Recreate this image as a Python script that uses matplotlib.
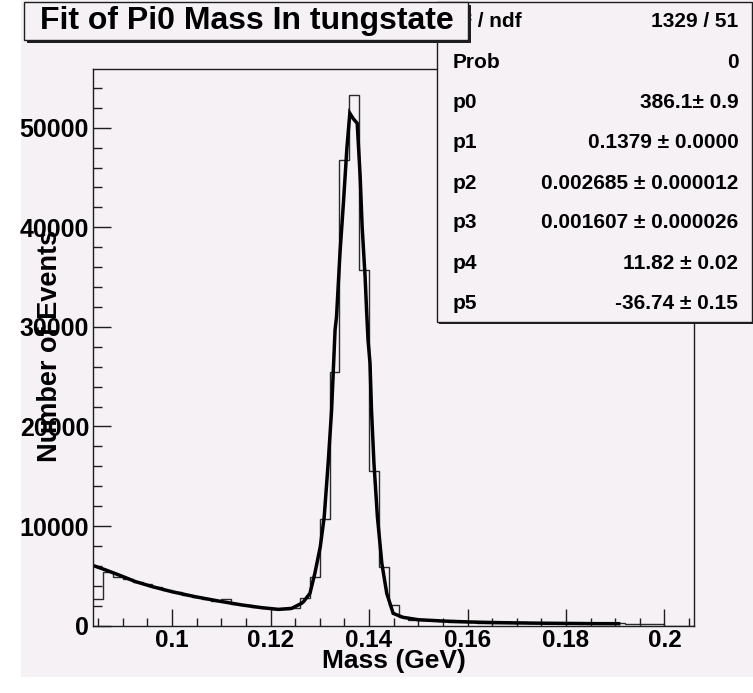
import matplotlib
matplotlib.use("Agg")
import matplotlib.pyplot as plt
from matplotlib.patches import Rectangle
from matplotlib.ticker import MultipleLocator, FixedLocator
import numpy as np

# histogram: 61 bins of 0.002 GeV from 0.084 to 0.206
bin_lo = 0.084
bin_width = 0.002
counts = [
    2650, 5420, 4860, 4700, 4400, 4150, 3850, 3600, 3350, 3100,
    2900, 2700, 2500, 2650, 2200, 2050, 1900, 1800, 1650, 1650,
    1800, 2750, 4920, 10680, 25500, 46750, 53280, 35710, 15560, 5860,
    2080, 900, 600, 560, 540, 520, 420, 400, 380, 280,
    270, 260, 250, 330, 320, 310, 300, 290, 280, 280,
    270, 260, 250, 240, 200, 190, 180, 170, 0, 0, 0,
]

# fitted curve
fit_x = [
    0.0841, 0.0865, 0.0892, 0.0926, 0.0960, 0.1000, 0.1047, 0.1094, 0.1142,
    0.1182, 0.1216, 0.1243, 0.1263, 0.1267, 0.1280, 0.1290, 0.1301, 0.1309,
    0.1317, 0.1324, 0.1331, 0.1334, 0.1341, 0.1348, 0.1355, 0.1361, 0.1368,
    0.1376, 0.1382, 0.1386, 0.1392, 0.1395, 0.1398, 0.1402, 0.1405, 0.1410,
    0.1417, 0.1426, 0.1436, 0.1449, 0.1469, 0.150, 0.155, 0.160, 0.165,
    0.170, 0.175, 0.180, 0.185, 0.1907,
]
fit_y = [
    6020, 5600, 5090, 4420, 3920, 3410, 2910, 2480, 2080,
    1810, 1640, 1740, 2250, 2410, 3250, 5260, 7930, 10940,
    16330, 21660, 29690, 31020, 37420, 42440, 47930, 51450, 50900,
    50440, 45080, 40060, 35040, 31700, 28680, 26340, 21660, 16300,
    10940, 6260, 3250, 1240, 840, 600, 470, 380, 320,
    280, 250, 230, 210, 200,
]

xticks = [0.1, 0.12, 0.14, 0.16, 0.18, 0.2]
xtick_labels = ["0.1", "0.12", "0.14", "0.16", "0.18", "0.2"]
yticks = [0, 10000, 20000, 30000, 40000, 50000]

title = "Fit of Pi0 Mass In tungstate"
stat_names = ["\u03c7\u00b2 / ndf", "Prob", "p0", "p1", "p2", "p3", "p4", "p5"]
stat_values = [
    "1329 / 51", "0", "386.1\u00b1 0.9", "0.1379 \u00b1 0.0000",
    "0.002685 \u00b1 0.000012", "0.001607 \u00b1 0.000026",
    "11.82 \u00b1 0.02", "-36.74 \u00b1 0.15",
]

W, H = 753, 693
BG = "#f5f1f5"
INK = "#1e1e1e"
FONT = "Liberation Sans"


def fx(px):
    return px / W


def fy(py):
    return 1 - py / H


fig = plt.figure(figsize=(W / 100, H / 100), dpi=100, facecolor="white")

# canvas area (behind the axes)
fig.patches.append(Rectangle((fx(21), fy(677)), 1 - fx(21), 1 - fy(677) + 0.01,
                             transform=fig.transFigure, facecolor=BG,
                             edgecolor="none", zorder=-10))

ax = fig.add_axes([fx(93.3), fy(625.7), fx(694) - fx(93.3), fy(69.3) - fy(625.7)])
ax.set_facecolor(BG)

edges = bin_lo + bin_width * np.arange(len(counts) + 1)
ax.stairs(counts, edges, color="#2a2a2a", linewidth=1.0, baseline=None)
ax.plot(fit_x, fit_y, color="black", linewidth=2.5, solid_joinstyle="miter")

ax.set_xlim(bin_lo, bin_lo + bin_width * len(counts))
ax.set_ylim(0, 55860)

ax.xaxis.set_major_locator(FixedLocator(xticks))
ax.set_xticklabels(xtick_labels)
ax.xaxis.set_minor_locator(MultipleLocator(0.005))
ax.yaxis.set_major_locator(FixedLocator(yticks))
ax.set_yticklabels([str(v) for v in yticks])
ax.yaxis.set_minor_locator(MultipleLocator(2000))

ax.tick_params(axis="both", which="both", direction="in", top=False, right=False,
               width=1.0, color=INK)
ax.tick_params(axis="y", which="major", length=13, pad=3)
ax.tick_params(axis="y", which="minor", length=6.5)
ax.tick_params(axis="x", which="major", length=12, pad=2.5)
ax.tick_params(axis="x", which="minor", length=6)
for lab in ax.get_yticklabels():
    lab.set_fontfamily(FONT)
    lab.set_fontweight("bold")
    lab.set_fontsize(18)
for lab in ax.get_xticklabels():
    lab.set_fontfamily(FONT)
    lab.set_fontweight("bold")
    lab.set_fontsize(17.5)
for sp in ax.spines.values():
    sp.set_linewidth(1.0)
    sp.set_color(INK)

fig.text(fx(393.5), fy(661), "Mass (GeV)", ha="center", va="center",
         fontfamily=FONT, fontweight="bold", fontsize=19)
fig.text(fx(50), fy(346), "Number of Events", ha="center", va="center",
         rotation=90, fontfamily=FONT, fontweight="bold", fontsize=19.5)

# stats box
sx0, sy0, sx1, sy1 = 437, 1.7, 751.5, 321.7
fig.patches.append(Rectangle((fx(sx0 + 2), fy(sy1 + 2.5)), fx(sx1) - fx(sx0), fy(sy0) - fy(sy1),
                             transform=fig.transFigure, facecolor=INK,
                             edgecolor="none", zorder=5))
fig.patches.append(Rectangle((fx(sx0), fy(sy1)), fx(sx1) - fx(sx0), fy(sy0) - fy(sy1),
                             transform=fig.transFigure, facecolor=BG,
                             edgecolor=INK, linewidth=1.0, zorder=6))
row_y = [21.7, 62.5, 102.5, 143, 183, 223, 263.5, 303.5]
for name, val, ry in zip(stat_names, stat_values, row_y):
    fig.text(fx(452.7), fy(ry), name, ha="left", va="center", fontfamily=FONT,
             fontweight="bold", fontsize=15, zorder=7)
    fig.text(fx(738.3), fy(ry), val, ha="right", va="center", fontfamily=FONT,
             fontweight="bold", fontsize=15, zorder=7)

# title box
tx0, ty0, tx1, ty1 = 24, 2, 468, 40
fig.patches.append(Rectangle((fx(tx0 + 2.5), fy(ty1 + 2.5)), fx(tx1) - fx(tx0), fy(ty0) - fy(ty1),
                             transform=fig.transFigure, facecolor=INK,
                             edgecolor="none", zorder=8))
fig.patches.append(Rectangle((fx(tx0), fy(ty1)), fx(tx1) - fx(tx0), fy(ty0) - fy(ty1),
                             transform=fig.transFigure, facecolor=BG,
                             edgecolor=INK, linewidth=1.0, zorder=9))
fig.text(fx(247), fy(21.5), title, ha="center", va="center", fontfamily=FONT,
         fontweight="bold", fontsize=23, zorder=10)

fig.savefig("out.png", dpi=100, facecolor="white")
